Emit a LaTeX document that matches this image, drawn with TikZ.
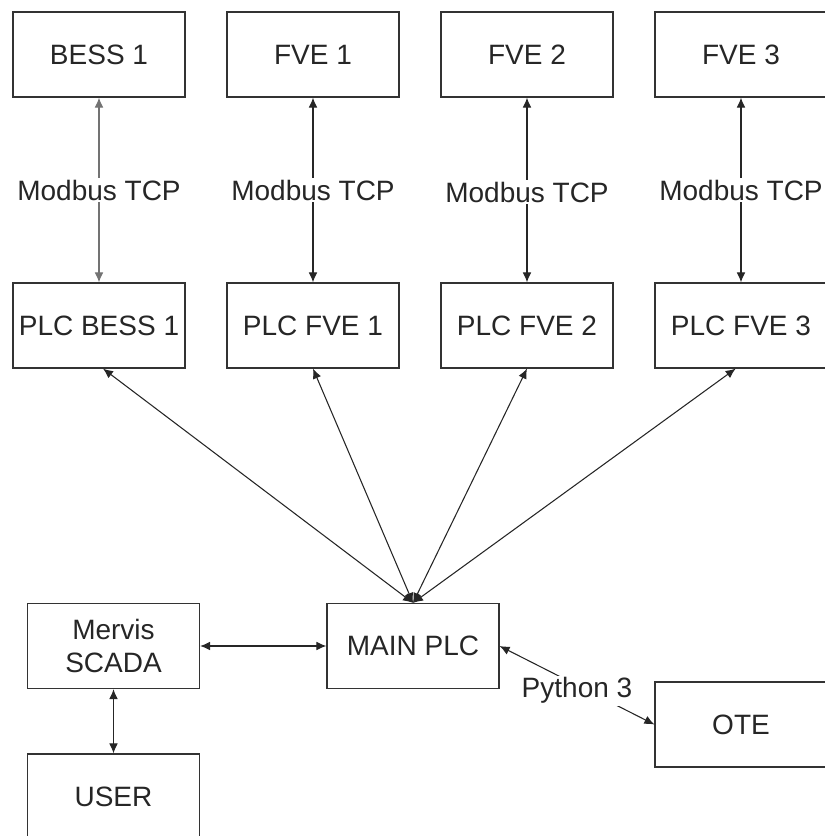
\documentclass[tikz,border=0pt]{standalone}
\usepackage{fontspec}
\setmainfont{Liberation Sans}
\usetikzlibrary{arrows.meta}
\begin{document}
\begin{tikzpicture}[x=0.75pt,y=-0.75pt,
  box/.style={draw=black!80, line width=0.9pt, minimum width=129pt, minimum height=63.75pt,
    inner sep=0pt, font=\fontsize{21}{24.75}\selectfont, text=black!85, align=center},
  conn/.style={{Latex[length=7.5pt,width=6.5pt]}-{Latex[length=7.5pt,width=6.5pt]}, line width=0.8pt, draw=black!85},
  lbl/.style={fill=white, inner sep=1.5pt, font=\fontsize{21}{24.75}\selectfont, text=black!85}]
\useasboundingbox (0,0) rectangle (825,836);

\node[box] (b1) at (99,54.5) {BESS 1};
\node[box] (f1) at (313,54.5) {FVE 1};
\node[box] (f2) at (527,54.5) {FVE 2};
\node[box] (f3) at (741,54.5) {FVE 3};

\node[box] (pb1) at (99,325.5) {PLC BESS 1};
\node[box] (pf1) at (313,325.5) {PLC FVE 1};
\node[box] (pf2) at (527,325.5) {PLC FVE 2};
\node[box] (pf3) at (741,325.5) {PLC FVE 3};

\node[box] (ms) at (113.5,646) {Mervis\\SCADA};
\node[box] (main) at (413,646) {MAIN PLC};
\node[box] (ote) at (741,724.5) {OTE};
\node[box] (user) at (113.5,796.5) {USER};

\draw[conn, draw=black!55] (b1.south) -- node[lbl] {Modbus TCP} (pb1.north);
\draw[conn] (f1.south) -- node[lbl] {Modbus TCP} (pf1.north);
\draw[conn] (f2.south) -- node[lbl, yshift=-1.5pt] {Modbus TCP} (pf2.north);
\draw[conn] (f3.south) -- node[lbl] {Modbus TCP} (pf3.north);

\draw[conn] ([xshift=3pt]pb1.south) -- (main.north);
\draw[conn] (pf1.south) -- (main.north);
\draw[conn] (pf2.south) -- (main.north);
\draw[conn] ([xshift=-4pt]pf3.south) -- (main.north);

\draw[conn] (ms.east) -- (main.west);
\draw[conn] (ms.south) -- (user.north);
\draw[conn] (main.east) -- node[lbl, yshift=-4pt] {Python 3} (ote.west);
\end{tikzpicture}
\end{document}
